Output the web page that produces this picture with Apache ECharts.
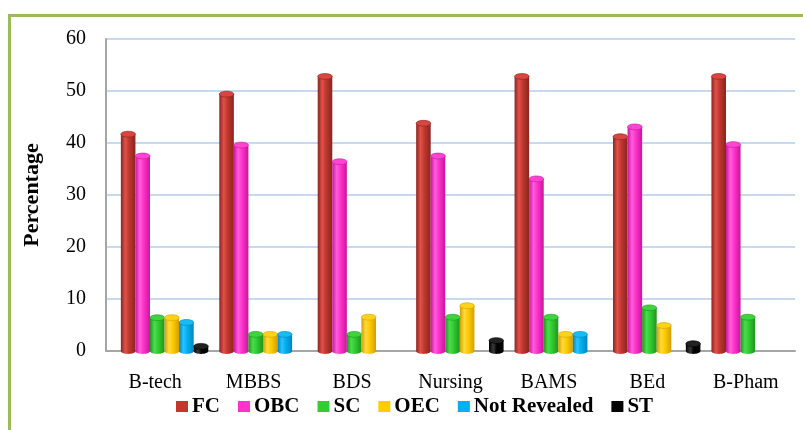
<!DOCTYPE html>
<html>
<head>
<meta charset="utf-8">
<script src="https://cdn.jsdelivr.net/npm/echarts@6/dist/echarts.min.js"></script>
<style>
  html, body { margin: 0; padding: 0; background: #fff; }
  #frame { position: absolute; left: 8px; top: 14px; width: 795px; height: 416px;
           border-left: 3px solid #9bbb59; border-top: 3px solid #9bbb59; box-sizing: border-box; }
  #chart { position: absolute; left: 0; top: 0; width: 803px; height: 430px; }
</style>
</head>
<body>
<div id="frame"></div>
<div id="chart"></div>
<script>
// Courses on the category axis
const courses = ['B-tech', 'MBBS', 'BDS', 'Nursing', 'BAMS', 'BEd', 'B-Pham'];

// Percentage of students in each social category, per course (null = no bar)
const fc          = [41.7, 49.4, 52.8, 43.8, 52.8, 41.2, 52.8];
const obc         = [37.5, 39.6, 36.4, 37.5, 33.1, 43.1, 39.7];
const sc          = [6.4, 3.2, 3.2, 6.5, 6.5, 8.3, 6.5];
const oec         = [6.4, 3.2, 6.5, 8.7, 3.2, 4.9, null];
const notRevealed = [5.5, 3.2, null, null, 3.2, null, null];
const st          = [0.9, null, null, 2.0, null, 1.4, null];

// Y axis ticks
const yTicks = { min: 0, max: 60, interval: 10 };

const seriesDefs = [
  { name: 'FC',           values: fc,          base: '#c0392e', dark: '#8a2420', light: '#e2504a', cap: '#d9453f' },
  { name: 'OBC',          values: obc,         base: '#ff33cc', dark: '#c8169c', light: '#ff5ddb', cap: '#ff44d4' },
  { name: 'SC',           values: sc,          base: '#33cc33', dark: '#1e961e', light: '#4cdc4c', cap: '#3fd33f' },
  { name: 'OEC',          values: oec,         base: '#ffcc00', dark: '#d49f00', light: '#ffd940', cap: '#ffd21a' },
  { name: 'Not Revealed', values: notRevealed, base: '#00b0f0', dark: '#0085bd', light: '#2bc3ff', cap: '#19bbf5' },
  { name: 'ST',           values: st,          base: '#000000', dark: '#000000', light: '#3a3a3a', cap: '#222222' }
];

const BAR_RATIO = 0.148;   // width of one cylinder as a share of the category band
const GROUP_SHIFT = 0.095; // perspective shift of each group to the right

function cylinderRenderer(index, def) {
  const count = seriesDefs.length;
  return function (params, api) {
    const v = api.value(1);
    if (v == null || isNaN(v)) return;
    const cat = api.value(0);
    const top = api.coord([cat, v]);
    const base = api.coord([cat, 0]);
    const band = api.size([1, 0])[0];
    const w = band * BAR_RATIO;
    const x = top[0] - (count / 2) * w + band * GROUP_SHIFT + index * w;
    const ry = Math.min(3, w * 0.2);
    const bodyFill = new echarts.graphic.LinearGradient(0, 0, 1, 0, [
      { offset: 0, color: def.dark },
      { offset: 0.3, color: def.light },
      { offset: 0.55, color: def.base },
      { offset: 1, color: def.dark }
    ]);
    return {
      type: 'group',
      children: [
        {
          type: 'rect',
          shape: { x: x, y: top[1], width: w, height: Math.max(0, base[1] - top[1]) },
          style: { fill: bodyFill }
        },
        {
          type: 'ellipse',
          shape: { cx: x + w / 2, cy: base[1], rx: w / 2, ry: ry },
          style: { fill: bodyFill }
        },
        {
          type: 'ellipse',
          shape: { cx: x + w / 2, cy: top[1], rx: w / 2, ry: ry },
          style: { fill: def.cap, stroke: def.dark, lineWidth: 0.6 }
        }
      ]
    };
  };
}

const chart = echarts.init(document.getElementById('chart'), null, { renderer: 'canvas' });

const serifFont = '"Liberation Serif", "Times New Roman", serif';

chart.setOption({
  backgroundColor: 'transparent',
  animation: false,
  textStyle: { fontFamily: serifFont },
  grid: { left: 106, right: 8, top: 39, bottom: 79 },
  legend: {
    data: seriesDefs.map(d => d.name),
    bottom: 8,
    left: 171,
    icon: 'rect',
    itemWidth: 12,
    itemHeight: 11,
    itemGap: 18,
    textStyle: { fontFamily: serifFont, fontWeight: 'bold', fontSize: 21, color: '#000', padding: [0, 0, 0, -1] }
  },
  xAxis: {
    type: 'category',
    data: courses,
    axisTick: { show: false },
    axisLine: { show: true, lineStyle: { color: '#a6a6a6', width: 2 } },
    axisLabel: { fontFamily: serifFont, fontSize: 20, color: '#000', margin: 22 },
    splitLine: { show: false }
  },
  yAxis: {
    type: 'value',
    min: yTicks.min,
    max: yTicks.max,
    interval: yTicks.interval,
    name: 'Percentage',
    nameLocation: 'middle',
    nameGap: 63,
    nameTextStyle: { fontFamily: serifFont, fontWeight: 'bold', fontSize: 22, color: '#000' },
    axisLine: { show: true, lineStyle: { color: '#a6a6a6', width: 2 } },
    axisTick: { show: false },
    axisLabel: { fontFamily: serifFont, fontSize: 20, color: '#000', margin: 20 },
    splitLine: { show: true, lineStyle: { color: '#c6d9f1', width: 2 } }
  },
  series: seriesDefs.map((def, idx) => ({
    name: def.name,
    type: 'custom',
    renderItem: cylinderRenderer(idx, def),
    itemStyle: { color: def.base },
    encode: { x: 0, y: 1 },
    data: def.values.map((v, i) => [i, v == null ? NaN : v])
  }))
});
</script>
</body>
</html>
